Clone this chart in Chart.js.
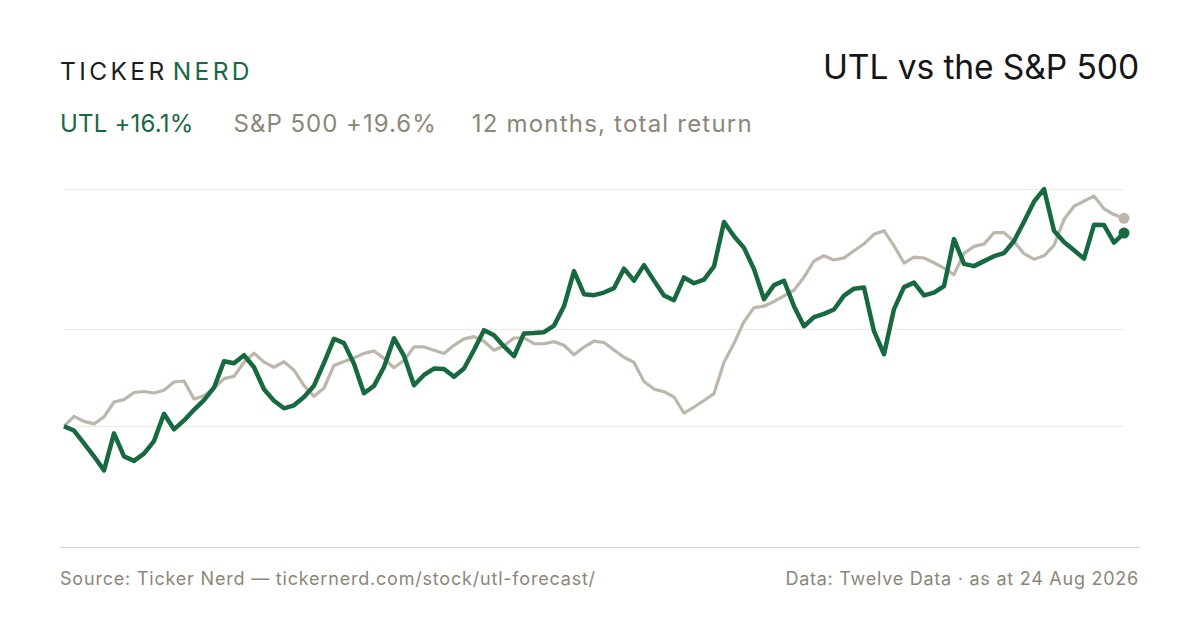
<!DOCTYPE html>
<html>
<head>
<meta charset="utf-8">
<script src="https://cdn.jsdelivr.net/npm/chart.js@4.4.1/dist/chart.umd.min.js"></script>
<style>
  html, body { margin: 0; padding: 0; background: #fff; }
  body { width: 1200px; height: 630px; position: relative; overflow: hidden; font-family: Inter, "Noto Sans", sans-serif; }
  .logo { position: absolute; left: 60px; top: 56px; font-size: 24.5px; letter-spacing: 3.4px; color: #1c1c1a; white-space: nowrap; }
  .logo span { color: #17693f; margin-left: 5px; }
  .title { position: absolute; right: 61px; top: 46px; font-size: 33.6px; color: #161616; letter-spacing: -0.1px; white-space: nowrap; }
  .sub { position: absolute; left: 60px; top: 109px; font-size: 24px; color: #8c8677; white-space: nowrap; }
  .sub .utl { color: #17693f; margin-right: 40px; letter-spacing: 0.2px; }
  .sub .spx { margin-right: 35px; letter-spacing: 1px; }
  .sub .per { letter-spacing: 1.2px; }
  .wrap { position: absolute; left: 0; top: 150px; width: 1200px; height: 404px; }
  .base { position: absolute; left: 60px; top: 547px; width: 1080px; height: 1px; background: #d9d5cb; }
  .foot { position: absolute; top: 568px; font-size: 18px; letter-spacing: 0.8px; color: #8c8677; white-space: nowrap; }
  .foot.l { left: 60px; }
  .foot.r { right: 61px; letter-spacing: 0.75px; }
</style>
</head>
<body>
<div class="logo">TICKER<span>NERD</span></div>
<div class="title">UTL vs the S&amp;P 500</div>
<div class="sub"><span class="utl">UTL +16.1%</span><span class="spx">S&amp;P 500 +19.6%</span><span class="per">12 months, total return</span></div>
<div class="wrap"><canvas id="c"></canvas></div>
<div class="base"></div>
<div class="foot l">Source: Ticker Nerd — tickernerd.com/stock/utl-forecast/</div>
<div class="foot r">Data: Twelve Data · as at 24 Aug 2026</div>
<script>
// rebased return over the 12 months (same scale for both lines)
const utlReturn = [
  0.0, -0.42, -1.71, -2.99, -4.4, -0.7, -3.0, -3.45, -2.72, -1.47,
  1.25, -0.3, 0.59, 1.65, 2.62, 3.86, 6.5, 6.3, 7.1, 5.9,
  3.7, 2.56, 1.8, 2.1, 2.92, 4.06, 6.33, 8.75, 8.31, 6.26,
  3.3, 4.04, 5.93, 8.8, 7.04, 4.1, 5.13, 5.77, 5.73, 4.95,
  5.78, 7.62, 9.6, 9.1, 7.98, 7.0, 9.28, 9.32, 9.4, 10.06,
  11.99, 15.5, 13.2, 13.1, 13.36, 13.8, 15.75, 14.55, 16.1, 14.55,
  13.06, 12.6, 14.87, 14.29, 14.66, 15.97, 20.4, 18.98, 17.82, 15.7,
  12.7, 14.1, 14.54, 12.0, 10.0, 10.9, 11.23, 11.67, 13.05, 13.75,
  13.86, 9.5, 7.2, 11.71, 13.9, 14.35, 13.08, 13.35, 14.0, 18.7,
  16.22, 16.0, 16.5, 16.99, 17.3, 18.51, 20.44, 22.44, 23.7, 19.53,
  18.41, 17.58, 16.75, 20.13, 20.1, 18.35, 19.3
];
const spxReturn = [
  0.0, 1.0, 0.5, 0.25, 0.95, 2.43, 2.67, 3.38, 3.48, 3.33,
  3.61, 4.43, 4.53, 2.74, 3.06, 3.82, 4.77, 4.99, 6.4, 7.3,
  6.42, 5.9, 6.45, 5.61, 4.06, 3.0, 3.83, 6.08, 6.48, 6.82,
  7.29, 7.53, 6.79, 5.85, 6.6, 7.93, 7.93, 7.6, 7.28, 8.09,
  8.73, 8.96, 8.5, 7.6, 8.04, 8.82, 8.83, 8.25, 8.25, 8.46,
  8.1, 7.15, 7.92, 8.51, 8.37, 7.62, 6.9, 6.38, 4.48, 3.72,
  3.46, 2.93, 1.33, 1.93, 2.58, 3.27, 6.4, 8.29, 10.45, 11.86,
  12.0, 12.47, 13.02, 13.59, 14.9, 16.51, 17.04, 16.61, 16.83, 17.53,
  18.23, 19.18, 19.54, 18.03, 16.31, 16.9, 16.81, 16.34, 15.8, 15.15,
  17.28, 17.97, 18.2, 19.35, 19.35, 18.46, 17.24, 16.69, 17.03, 18.08,
  20.65, 21.98, 22.49, 23.0, 21.73, 21.15, 20.77
];
const periods = utlReturn.map((_, i) => i);

// gridlines: start level, middle and top of the UTL range
const utlMin = Math.min(...utlReturn);
const utlMax = Math.max(...utlReturn);
const gridLevels = [0, (utlMin + utlMax) / 2, utlMax];

const green = '#17693f';
const grey = '#bdb6ab';

function endDot(arr, r) {
  return arr.map((_, i) => i === arr.length - 1 ? r : 0);
}

new Chart(document.getElementById('c'), {
  type: 'line',
  data: {
    labels: periods,
    datasets: [
      {
        label: 'UTL',
        data: utlReturn,
        borderColor: green,
        backgroundColor: green,
        borderWidth: 4.5,
        pointRadius: endDot(utlReturn, 5.5),
        pointBorderWidth: 0,
        tension: 0,
        clip: false
      },
      {
        label: 'S&P 500',
        data: spxReturn,
        borderColor: grey,
        backgroundColor: grey,
        borderWidth: 3.2,
        pointRadius: endDot(spxReturn, 5.5),
        pointBorderWidth: 0,
        tension: 0,
        clip: false
      }
    ]
  },
  options: {
    responsive: true,
    maintainAspectRatio: false,
    animation: false,
    layout: { padding: { left: 64, right: 76, top: 20, bottom: 0 } },
    plugins: { legend: { display: false }, tooltip: { enabled: false } },
    elements: { line: { borderJoinStyle: 'round', borderCapStyle: 'butt' } },
    scales: {
      x: {
        offset: false,
        grid: { display: false },
        border: { display: false },
        ticks: { display: false },
        afterFit: s => { s.height = 0; }
      },
      y: {
        min: -12.2,
        max: 25.6,
        border: { display: false },
        grid: { color: '#ece9e3', lineWidth: 1, drawTicks: false },
        ticks: { display: false },
        afterBuildTicks: s => { s.ticks = gridLevels.map(v => ({ value: v })); },
        afterFit: s => { s.width = 0; }
      }
    }
  }
});
</script>
</body>
</html>
